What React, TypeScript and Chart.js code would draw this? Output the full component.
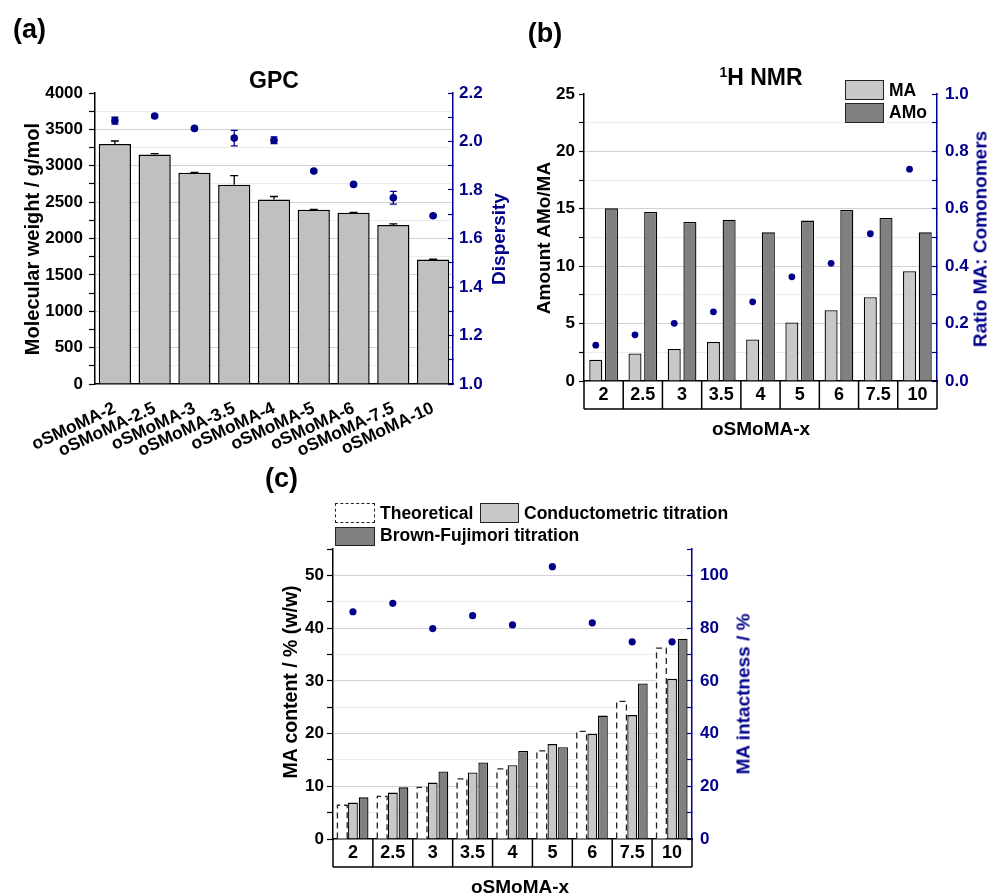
import React, { useEffect, useRef } from 'react';
import { Chart, registerables } from 'chart.js';

Chart.register(...registerables);

const FONT = 'Arial, "Liberation Sans", Helvetica, sans-serif';
const NAVY = '#00008b';
const LIGHT = '#c8c8c8';
const DARK = '#808080';
const GPC_GRAY = '#c0c0c0';

// ---------- (a) GPC ----------
const gpcLabels = ['oSMoMA-2', 'oSMoMA-2.5', 'oSMoMA-3', 'oSMoMA-3.5', 'oSMoMA-4', 'oSMoMA-5', 'oSMoMA-6', 'oSMoMA-7.5', 'oSMoMA-10'];
const gpcMw = [3300, 3155, 2905, 2740, 2535, 2395, 2355, 2185, 1710];
const gpcMwErr = [40, 12, 5, 125, 42, 5, 5, 15, 5];
const gpcDisp = [2.086, 2.105, 2.054, 2.014, 2.005, 1.878, 1.823, 1.768, 1.694];
const gpcDispErr = [0.014, 0.006, 0.004, 0.032, 0.014, 0.004, 0.004, 0.026, 0.004];

// ---------- (b) 1H NMR ----------
const xLabels = ['2', '2.5', '3', '3.5', '4', '5', '6', '7.5', '10'];
const nmrMA = [1.86, 2.39, 2.79, 3.4, 3.61, 5.09, 6.17, 7.3, 9.57];
const nmrAMo = [15.04, 14.72, 13.85, 14.05, 12.95, 13.97, 14.9, 14.2, 12.95];
const nmrRatio = [0.125, 0.161, 0.201, 0.241, 0.276, 0.363, 0.41, 0.513, 0.738];

// ---------- (c) MA content ----------
const maTheo = [6.4, 8.1, 9.8, 11.4, 13.3, 16.7, 20.4, 26.1, 36.2];
const maCond = [6.9, 8.8, 10.7, 12.6, 14.0, 18.0, 19.9, 23.5, 30.4];
const maBF = [7.9, 9.8, 12.8, 14.5, 16.7, 17.4, 23.4, 29.5, 38.0];
const maIntact = [86.2, 89.4, 79.8, 84.7, 81.2, 103.3, 82.0, 74.8, 74.8];

const TICK_FONT = { family: FONT, size: 17, weight: 'bold' as const };

function linAxis(o: any) {
  const isMajor = (v: number) => Math.abs(v / o.major - Math.round(v / o.major)) < 1e-6;
  return {
    type: 'linear',
    position: o.position,
    min: o.min,
    max: o.max,
    afterFit: (s: any) => {
      s.width = o.width;
    },
    border: { display: true, color: o.color, width: 1.5 },
    grid: {
      display: true,
      drawOnChartArea: !!o.gridLines,
      drawTicks: true,
      tickLength: o.tickLen,
      tickWidth: 1.2,
      tickColor: o.color,
      lineWidth: 1,
      color: (c: any) => {
        const v = c.tick ? c.tick.value : NaN;
        if (!(v > o.min + 1e-9 && v < o.max - 1e-9)) return 'rgba(0,0,0,0)';
        return isMajor(v) ? '#d2d2d2' : '#ececec';
      },
    },
    ticks: {
      stepSize: o.step,
      autoSkip: false,
      color: o.color,
      padding: o.pad,
      font: TICK_FONT,
      callback: (v: any) => (isMajor(Number(v)) ? o.fmt(Number(v)) : ''),
    },
  };
}

function tableX(height: number) {
  return {
    type: 'category',
    offset: true,
    grid: { display: false, drawTicks: false },
    border: { display: true, color: '#000', width: 1.5 },
    ticks: { color: '#000', font: { family: FONT, size: 18, weight: 'bold' as const }, padding: 3, autoSkip: false, maxRotation: 0, minRotation: 0 },
    afterFit: (s: any) => {
      s.height = height;
    },
  };
}

const tablePlugin = {
  id: 'catTable',
  afterDraw(chart: any) {
    const { ctx, chartArea } = chart;
    const xs = chart.scales.x;
    const n = xs.ticks.length;
    const w = xs.getPixelForValue(1) - xs.getPixelForValue(0);
    const y0 = chartArea.bottom;
    const y1 = chartArea.bottom + 28;
    ctx.save();
    ctx.strokeStyle = '#000';
    ctx.lineWidth = 1.5;
    ctx.beginPath();
    for (let k = 0; k <= n; k++) {
      const x = xs.getPixelForValue(0) - w / 2 + k * w;
      ctx.moveTo(x, y0);
      ctx.lineTo(x, y1);
    }
    ctx.moveTo(xs.getPixelForValue(0) - w / 2, y1);
    ctx.lineTo(xs.getPixelForValue(n - 1) + w / 2, y1);
    ctx.stroke();
    ctx.restore();
  },
};

// place the ratio markers of (b) above the MA bars (dataset 1)
const alignDotsPlugin = {
  id: 'alignDots',
  afterDatasetsUpdate(chart: any) {
    const dots = chart.getDatasetMeta(0).data;
    const bars = chart.getDatasetMeta(1).data;
    dots.forEach((p: any, i: number) => {
      if (bars[i]) p.x = bars[i].x;
    });
  },
};

const gpcErrPlugin = {
  id: 'gpcErr',
  afterDatasetsDraw(chart: any) {
    const { ctx } = chart;
    const ys = chart.scales.y;
    const ys2 = chart.scales.y2;
    const barMeta = chart.getDatasetMeta(1);
    const dotMeta = chart.getDatasetMeta(0);
    ctx.save();
    ctx.lineWidth = 1.3;
    ctx.strokeStyle = '#000';
    ctx.beginPath();
    barMeta.data.forEach((el: any, i: number) => {
      const x = el.x;
      const y0 = ys.getPixelForValue(gpcMw[i]);
      const y1 = ys.getPixelForValue(gpcMw[i] + gpcMwErr[i]);
      ctx.moveTo(x, y0);
      ctx.lineTo(x, y1);
      ctx.moveTo(x - 4, y1);
      ctx.lineTo(x + 4, y1);
    });
    ctx.stroke();
    ctx.strokeStyle = NAVY;
    ctx.beginPath();
    dotMeta.data.forEach((el: any, i: number) => {
      const x = el.x;
      const a = ys2.getPixelForValue(gpcDisp[i] - gpcDispErr[i]);
      const b = ys2.getPixelForValue(gpcDisp[i] + gpcDispErr[i]);
      ctx.moveTo(x, a);
      ctx.lineTo(x, b);
      ctx.moveTo(x - 3.5, a);
      ctx.lineTo(x + 3.5, a);
      ctx.moveTo(x - 3.5, b);
      ctx.lineTo(x + 3.5, b);
    });
    ctx.stroke();
    ctx.restore();
  },
};

const dashedPlugin = {
  id: 'dashedTheo',
  afterDatasetDraw(chart: any, args: any) {
    if (args.index !== 1) return;
    const ctx = chart.ctx;
    const meta = chart.getDatasetMeta(1);
    ctx.save();
    ctx.setLineDash([6, 4]);
    ctx.lineWidth = 1.3;
    ctx.strokeStyle = '#222';
    meta.data.forEach((el: any) => {
      const { x, y, base, width } = el.getProps(['x', 'y', 'base', 'width'], true);
      const l = x - width / 2;
      const r = x + width / 2;
      ctx.beginPath();
      ctx.moveTo(l, base);
      ctx.lineTo(l, y);
      ctx.lineTo(r, y);
      ctx.lineTo(r, base);
      ctx.stroke();
    });
    ctx.restore();
  },
};

const baseOpts = (top: number) => ({
  responsive: false,
  animation: false as const,
  layout: { padding: { top, left: 0, right: 0, bottom: 0 } },
  plugins: { legend: { display: false }, tooltip: { enabled: false } },
});

const dot = (data: any, extra: any = {}) => ({
  type: 'line' as const,
  data,
  showLine: false,
  pointRadius: 3.8,
  pointBackgroundColor: NAVY,
  pointBorderColor: NAVY,
  pointBorderWidth: 0,
  order: 0,
  ...extra,
});

function Txt(props: { x: number; y: number; size: number; color?: string; rot?: boolean; children: any }) {
  return (
    <div
      style={{
        position: 'absolute',
        left: props.x,
        top: props.y,
        transform: props.rot ? 'translate(-50%,-50%) rotate(-90deg)' : 'translate(-50%,-50%)',
        fontFamily: FONT,
        fontWeight: 'bold',
        fontSize: props.size,
        lineHeight: 1,
        whiteSpace: 'nowrap',
        color: props.color || '#000',
      }}
    >
      {props.children}
    </div>
  );
}

function LegText(props: { x: number; y: number; children: any }) {
  return (
    <div
      style={{
        position: 'absolute',
        left: props.x,
        top: props.y,
        transform: 'translateY(-50%)',
        fontFamily: FONT,
        fontWeight: 'bold',
        fontSize: 17.5,
        lineHeight: 1,
        whiteSpace: 'nowrap',
        color: '#000',
      }}
    >
      {props.children}
    </div>
  );
}

function Box(props: { x: number; y: number; w: number; h: number; bg: string; dashed?: boolean }) {
  return (
    <div
      style={{
        position: 'absolute',
        left: props.x,
        top: props.y,
        width: props.w,
        height: props.h,
        boxSizing: 'border-box',
        background: props.bg,
        border: props.dashed ? '1.5px dashed #222' : '1.5px solid #222',
      }}
    />
  );
}

export default function App() {
  const refA = useRef<HTMLCanvasElement>(null);
  const refB = useRef<HTMLCanvasElement>(null);
  const refC = useRef<HTMLCanvasElement>(null);

  useEffect(() => {
    const chartA = new Chart(refA.current as HTMLCanvasElement, {
      type: 'bar',
      data: {
        labels: gpcLabels,
        datasets: [
          dot(gpcDisp, { label: 'Dispersity', yAxisID: 'y2', xAxisID: 'x' }) as any,
          {
            type: 'bar',
            label: 'Molecular weight',
            data: gpcMw,
            xAxisID: 'x',
            yAxisID: 'y',
            backgroundColor: GPC_GRAY,
            borderColor: '#000',
            borderWidth: 1.5,
            categoryPercentage: 0.81,
            barPercentage: 1,
            order: 1,
          },
        ],
      },
      options: {
        ...baseOpts(93),
        scales: {
          x: {
            type: 'category',
            offset: true,
            grid: { display: false, drawTicks: false },
            border: { display: true, color: '#000', width: 1.5 },
            ticks: { color: '#000', font: { family: FONT, size: 17.5, weight: 'bold' }, minRotation: 25, maxRotation: 25, padding: 14, autoSkip: false },
            afterFit: (s: any) => {
              s.height = 86;
            },
          },
          y: linAxis({ position: 'left', min: 0, max: 4000, step: 250, major: 500, fmt: (v: number) => String(v), color: '#000', width: 95, tickLen: 6, pad: 6, gridLines: true }),
          y2: linAxis({ position: 'right', min: 1.0, max: 2.2, step: 0.1, major: 0.2, fmt: (v: number) => v.toFixed(1), color: NAVY, width: 59, tickLen: -5, pad: 11, gridLines: false }),
        } as any,
      },
      plugins: [gpcErrPlugin],
    } as any);

    const chartB = new Chart(refB.current as HTMLCanvasElement, {
      type: 'bar',
      data: {
        labels: xLabels,
        datasets: [
          dot(nmrRatio, { label: 'Ratio MA: Comonomers', yAxisID: 'y2', xAxisID: 'x', pointRadius: 3.4 }) as any,
          {
            type: 'bar',
            label: 'MA',
            data: nmrMA,
            xAxisID: 'x',
            yAxisID: 'y',
            backgroundColor: LIGHT,
            borderColor: '#000',
            borderWidth: 1.3,
            categoryPercentage: 0.8,
            barPercentage: 0.83,
            order: 1,
          },
          {
            type: 'bar',
            label: 'AMo',
            data: nmrAMo,
            xAxisID: 'x',
            yAxisID: 'y',
            backgroundColor: DARK,
            borderColor: '#000',
            borderWidth: 1.3,
            categoryPercentage: 0.8,
            barPercentage: 0.83,
            order: 1,
          },
        ],
      },
      options: {
        ...baseOpts(94),
        scales: {
          x: tableX(89),
          y: linAxis({ position: 'left', min: 0, max: 25, step: 2.5, major: 5, fmt: (v: number) => String(v), color: '#000', width: 72, tickLen: 5, pad: 4, gridLines: true }),
          y2: linAxis({ position: 'right', min: 0, max: 1, step: 0.1, major: 0.2, fmt: (v: number) => v.toFixed(1), color: NAVY, width: 55, tickLen: -5, pad: 13, gridLines: false }),
        } as any,
      },
      plugins: [tablePlugin, alignDotsPlugin],
    } as any);

    const chartC = new Chart(refC.current as HTMLCanvasElement, {
      type: 'bar',
      data: {
        labels: xLabels,
        datasets: [
          dot(maIntact, { label: 'MA intactness', yAxisID: 'y2', xAxisID: 'x', pointRadius: 3.6 }) as any,
          {
            type: 'bar',
            label: 'Theoretical',
            data: maTheo,
            xAxisID: 'x',
            yAxisID: 'y',
            backgroundColor: '#ffffff',
            borderWidth: 0,
            categoryPercentage: 0.8,
            barPercentage: 0.92,
            order: 1,
          },
          {
            type: 'bar',
            label: 'Conductometric titration',
            data: maCond,
            xAxisID: 'x',
            yAxisID: 'y',
            backgroundColor: LIGHT,
            borderColor: '#000',
            borderWidth: 1.3,
            categoryPercentage: 0.8,
            barPercentage: 0.92,
            order: 1,
          },
          {
            type: 'bar',
            label: 'Brown-Fujimori titration',
            data: maBF,
            xAxisID: 'x',
            yAxisID: 'y',
            backgroundColor: DARK,
            borderColor: '#000',
            borderWidth: 1.3,
            categoryPercentage: 0.8,
            barPercentage: 0.92,
            order: 1,
          },
        ],
      },
      options: {
        ...baseOpts(79),
        scales: {
          x: tableX(55),
          y: linAxis({ position: 'left', min: 0, max: 55, step: 5, major: 10, fmt: (v: number) => String(v), color: '#000', width: 83, tickLen: 6, pad: 3, gridLines: true }),
          y2: linAxis({ position: 'right', min: 0, max: 110, step: 10, major: 20, fmt: (v: number) => String(v), color: NAVY, width: 68, tickLen: -5, pad: 13, gridLines: false }),
        } as any,
      },
      plugins: [tablePlugin, dashedPlugin],
    } as any);

    return () => {
      chartA.destroy();
      chartB.destroy();
      chartC.destroy();
    };
  }, []);

  return (
    <div style={{ position: 'absolute', left: 0, top: 0, width: 992, height: 894, overflow: 'hidden', background: '#fff' }}>
      <canvas ref={refA} width={512} height={470} style={{ position: 'absolute', left: 0, top: 0, width: 512, height: 470 }} />
      <canvas ref={refB} width={480} height={470} style={{ position: 'absolute', left: 512, top: 0, width: 480, height: 470 }} />
      <canvas ref={refC} width={510} height={424} style={{ position: 'absolute', left: 250, top: 470, width: 510, height: 424 }} />

      {/* panel labels */}
      <Txt x={29.5} y={28.5} size={27}>(a)</Txt>
      <Txt x={545} y={33} size={27}>(b)</Txt>
      <Txt x={281.5} y={477.5} size={27}>(c)</Txt>

      {/* chart titles */}
      <Txt x={274} y={80} size={23}>GPC</Txt>
      <Txt x={761} y={77} size={23}>
        <span style={{ fontSize: 14, verticalAlign: 'super' }}>1</span>H NMR
      </Txt>

      {/* axis titles */}
      <Txt x={32} y={238.5} size={20} rot>Molecular weight / g/mol</Txt>
      <Txt x={498} y={238.5} size={19} rot color={NAVY}>Dispersity</Txt>
      <Txt x={543} y={237.5} size={19} rot>Amount AMo/MA</Txt>
      <Txt x={980} y={238.5} size={19} rot color={NAVY}>Ratio MA: Comonomers</Txt>
      <Txt x={761} y={428} size={19}>oSMoMA-x</Txt>
      <Txt x={291} y={682} size={19.5} rot>MA content / % (w/w)</Txt>
      <Txt x={743} y={694} size={19} rot color={NAVY}>MA intactness / %</Txt>
      <Txt x={520} y={886} size={19}>oSMoMA-x</Txt>

      {/* legend (b) */}
      <Box x={845} y={80} w={39} h={20} bg={LIGHT} />
      <Box x={845} y={103} w={39} h={20} bg={DARK} />
      <LegText x={889} y={90.5}>MA</LegText>
      <LegText x={889} y={113}>AMo</LegText>

      {/* legend (c) */}
      <Box x={335} y={503} w={40} h={20} bg="#ffffff" dashed />
      <LegText x={380} y={513.5}>Theoretical</LegText>
      <Box x={480} y={503} w={39} h={20} bg={LIGHT} />
      <LegText x={524} y={513.5}>Conductometric titration</LegText>
      <Box x={335} y={527} w={40} h={19} bg={DARK} />
      <LegText x={380} y={536}>Brown-Fujimori titration</LegText>
    </div>
  );
}
